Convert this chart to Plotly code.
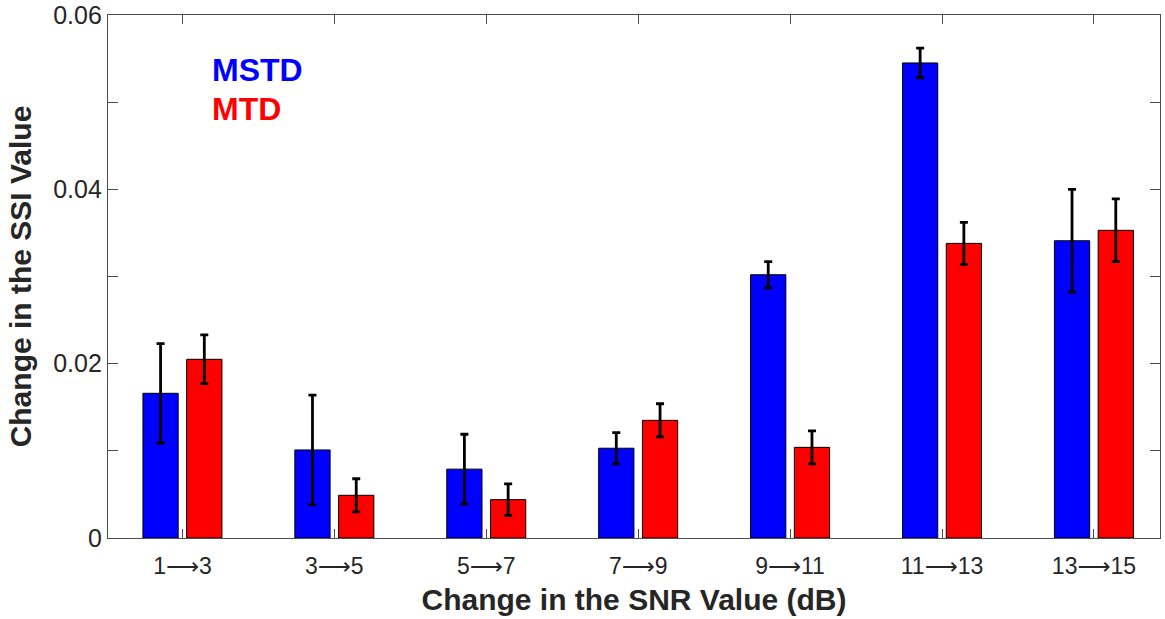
import plotly.graph_objects as go

ARROW = '<span style="font-family:DejaVu Sans">\u27f6</span>'
categories = ["1\u21923", "3\u21925", "5\u21927", "7\u21929", "9\u219211", "11\u219213", "13\u219215"]
mstd_values = [0.0166, 0.0101, 0.0079, 0.0103, 0.0302, 0.0545, 0.0341]
mstd_errors = [0.0057, 0.0063, 0.0040, 0.0018, 0.0015, 0.0017, 0.0059]
mtd_values = [0.0205, 0.0049, 0.0044, 0.0135, 0.0104, 0.0338, 0.0353]
mtd_errors = [0.0028, 0.0019, 0.0018, 0.0019, 0.0019, 0.0024, 0.0036]
y_tick_vals = [0, 0.02, 0.04, 0.06]
y_tick_text = ["0", "0.02", "0.04", "0.06"]

FONT = "Liberation Sans, Arial, Helvetica, sans-serif"
AX = "#4d4d4d"
TXT = "#262626"

x_tick_text = [c.replace("\u2192", ARROW) for c in categories]

fig = go.Figure()
err_style = dict(type="data", visible=True, color="black", thickness=2.8, width=4)
fig.add_trace(go.Bar(
    x=categories, y=mstd_values, name="MSTD",
    error_y=dict(array=mstd_errors, **err_style),
    marker=dict(color="#0000ff", line=dict(color="black", width=1)),
    width=0.232, offset=-0.26,
))
fig.add_trace(go.Bar(
    x=categories, y=mtd_values, name="MTD",
    error_y=dict(array=mtd_errors, **err_style),
    marker=dict(color="#ff0000", line=dict(color="black", width=1)),
    width=0.232, offset=0.028,
))

W, H = 1165, 619
fig.update_layout(
    width=W, height=H,
    margin=dict(l=108, r=5, t=15, b=81),
    plot_bgcolor="white", paper_bgcolor="white",
    showlegend=False,
    barmode="group",
    font=dict(family=FONT, color=TXT, size=20),
)
fig.update_xaxes(
    type="category", range=[-0.49, 6.435],
    tickmode="array", tickvals=categories, ticktext=x_tick_text,
    showline=True, linecolor=AX, linewidth=1.2, mirror="ticks",
    ticks="inside", ticklen=9, tickcolor=AX, tickwidth=1,
    showgrid=False, zeroline=False, automargin=False,
    ticklabelstandoff=7,
    tickfont=dict(size=23, color=TXT, family=FONT),
    title=dict(text="<b>Change in the SNR Value (dB)</b>", font=dict(size=30, color=TXT, family=FONT), standoff=11),
)
fig.update_yaxes(
    range=[0, 0.06],
    tickvals=y_tick_vals, ticktext=y_tick_text,
    showline=True, linecolor=AX, linewidth=1.2, mirror="ticks",
    ticks="inside", ticklen=10, tickcolor=AX, tickwidth=1,
    minor=dict(dtick=0.01, ticks="inside", ticklen=10, tickcolor=AX, tickwidth=1, showgrid=False),
    showgrid=False, zeroline=False, automargin=False,
    tickfont=dict(size=25, color=TXT, family=FONT),
    title=dict(text="<b>Change in the SSI Value</b>", font=dict(size=30, color=TXT, family=FONT), standoff=12),
)

PW, PH = 1052, 523
fig.add_annotation(text="<b>MSTD</b>", xref="paper", yref="paper", x=(210 - 108) / PW, y=(538 - 70) / PH,
                   xanchor="left", yanchor="middle", showarrow=False,
                   font=dict(size=32, color="#0000ff", family=FONT))
fig.add_annotation(text="<b>MTD</b>", xref="paper", yref="paper", x=(210 - 108) / PW, y=(538 - 109) / PH,
                   xanchor="left", yanchor="middle", showarrow=False,
                   font=dict(size=32, color="#ff0000", family=FONT))

fig.write_html("out.html", config={"displayModeBar": False},
               post_script="document.body.style.margin='0';")
